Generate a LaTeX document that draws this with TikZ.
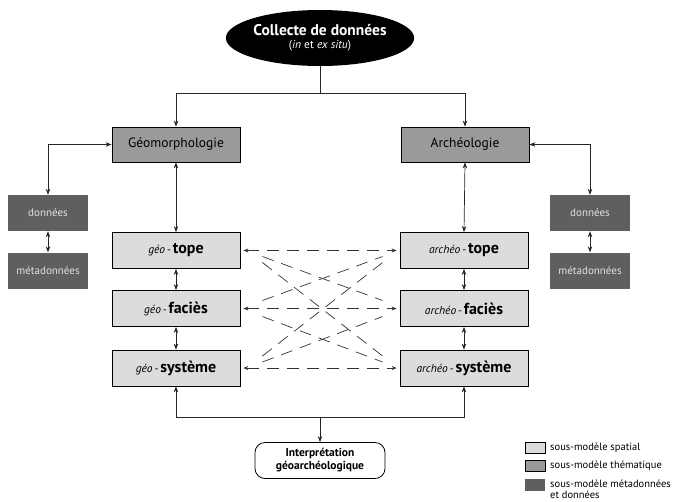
\documentclass[tikz,border=0pt]{standalone}
\usepackage{fontspec}
\setmainfont{PT Sans}
\usetikzlibrary{shapes.geometric,arrows.meta}
\definecolor{lightg}{RGB}{220,220,220}
\definecolor{medg}{RGB}{154,154,154}
\definecolor{darkg}{RGB}{95,95,95}
\definecolor{metatext}{RGB}{225,225,225}
\begin{document}
\begin{tikzpicture}[x=1pt,y=-1pt,
  spat/.style={draw=black, fill=lightg, minimum width=128pt, minimum height=36pt, inner sep=0pt, line width=0.8pt},
  them/.style={draw=black, fill=medg, minimum width=128pt, minimum height=35pt, inner sep=0pt, line width=0.8pt, font=\fontsize{13.5}{15}\selectfont},
  meta/.style={fill=darkg, text=metatext, minimum width=80pt, minimum height=36pt, inner sep=0pt, font=\fontsize{11}{13}\selectfont},
  arr/.style={-{Stealth[length=6pt,width=4.5pt]}, line width=0.7pt, draw=black!85},
  barr/.style={{Stealth[length=6pt,width=4.5pt]}-{Stealth[length=6pt,width=4.5pt]}, line width=0.7pt, draw=black!85},
  darr/.style={{Stealth[length=5pt,width=4pt]}-{Stealth[length=5pt,width=4pt]}, line width=0.7pt, draw=black!80, dash pattern=on 12pt off 8pt},
  dln/.style={line width=0.7pt, draw=black!80, dash pattern=on 12pt off 8pt},
  lg/.style={anchor=west, inner sep=0pt, font=\fontsize{10.5}{11}\selectfont}
]
\useasboundingbox (0,0) rectangle (676,501);

% nodes
\node[ellipse, fill=black, text=white, minimum width=172pt, minimum height=56pt, inner sep=0pt, align=center] (col) at (320,38)
  {\fontsize{15.5}{17}\selectfont\bfseries Collecte de données\\[1pt]\fontsize{11.5}{13}\selectfont(\textit{in} et \textit{ex situ})};

\node[them] (geo) at (176,144.5) {Géomorphologie};
\node[them] (arc) at (465,144.5) {Archéologie};

\node[meta] (dl) at (48,213) {données};
\node[meta] (ml) at (48,270.5) {métadonnées};
\node[meta] (dr) at (590,213) {données};
\node[meta] (mr) at (590,270.5) {métadonnées};

\node[spat] (gt) at (176,250.5) {{\fontsize{11.5}{13}\selectfont\itshape géo}{\fontsize{11}{13}\selectfont\,-\,}{\fontsize{16}{17}\selectfont\bfseries tope}};
\node[spat] (gf) at (176,308.5) {{\fontsize{11.5}{13}\selectfont\itshape géo}{\fontsize{11}{13}\selectfont\,-\,}{\fontsize{16}{17}\selectfont\bfseries faciès}};
\node[spat] (gs) at (176,368) {{\fontsize{11.5}{13}\selectfont\itshape géo}{\fontsize{11}{13}\selectfont\,-\,}{\fontsize{16}{17}\selectfont\bfseries système}};
\node[spat] (at) at (464,250.5) {{\fontsize{11.5}{13}\selectfont\itshape archéo}{\fontsize{11}{13}\selectfont\,-\,}{\fontsize{16}{17}\selectfont\bfseries tope}};
\node[spat] (af) at (464,308.5) {{\fontsize{11.5}{13}\selectfont\itshape archéo}{\fontsize{11}{13}\selectfont\,-\,}{\fontsize{16}{17}\selectfont\bfseries faciès}};
\node[spat] (as) at (464,368) {{\fontsize{11.5}{13}\selectfont\itshape archéo}{\fontsize{11}{13}\selectfont\,-\,}{\fontsize{16}{17}\selectfont\bfseries système}};

\node[draw=black, fill=white, rounded corners=10pt, minimum width=130pt, minimum height=36pt, inner sep=0pt, line width=0.8pt, align=center, font=\fontsize{11.5}{13}\selectfont\bfseries] (interp) at (320,460.5) {Interprétation\\géoarchéologique};

% top connectors
\coordinate (tj) at (320,93);
\draw[arr] (col.south) -- (tj) -| (geo.north);
\draw[arr] (tj) -| (arc.north);

% side connectors
\draw[barr] (geo.west) -| (dl.north);
\draw[barr] (arc.east) -| (dr.north);
\draw[barr] (dl.south) -- (ml.north);
\draw[barr] (dr.south) -- (mr.north);

% vertical chains
\draw[barr] (geo.south) -- (gt.north);
\draw[barr] (gt.south) -- (gf.north);
\draw[barr] (gf.south) -- (gs.north);
\draw[barr] (arc.south) -- (at.north);
\draw[barr] (at.south) -- (af.north);
\draw[barr] (af.south) -- (as.north);

% dashed horizontals
\draw[darr] ([xshift=3pt]gt.east) -- ([xshift=-3pt]at.west);
\draw[darr] ([xshift=3pt]gf.east) -- ([xshift=-3pt]af.west);
\draw[darr] ([xshift=3pt]gs.east) -- ([xshift=-3pt]as.west);

% dashed diagonals
\draw[dln] ([xshift=22pt,yshift=-6pt]gt.east) -- ([xshift=-17pt,yshift=8pt]af.west);
\draw[dln] ([xshift=22pt,yshift=-12pt]gt.east) -- ([xshift=-17pt,yshift=12pt]as.west);
\draw[dln] ([xshift=22pt,yshift=8pt]gf.east) -- ([xshift=-17pt,yshift=-6pt]at.west);
\draw[dln] ([xshift=22pt,yshift=-8pt]gf.east) -- ([xshift=-17pt,yshift=6pt]as.west);
\draw[dln] ([xshift=22pt,yshift=12pt]gs.east) -- ([xshift=-17pt,yshift=-12pt]at.west);
\draw[dln] ([xshift=22pt,yshift=6pt]gs.east) -- ([xshift=-17pt,yshift=-8pt]af.west);

% bottom connectors
\coordinate (bj) at (320,417);
\draw[arr] (bj) -| (gs.south);
\draw[arr] (bj) -| (as.south);
\draw[arr] (bj) -- (interp.north);

% legend
\node[draw=black, fill=lightg, minimum width=20pt, minimum height=11pt, inner sep=0pt, line width=0.6pt] (l1) at (535,447.5) {};
\node[draw=black, fill=medg, minimum width=20pt, minimum height=11pt, inner sep=0pt, line width=0.6pt] (l2) at (535,466) {};
\node[fill=darkg, minimum width=20pt, minimum height=12pt, inner sep=0pt] (l3) at (535,485) {};
\node[lg] (t1) at (550,447.5) {sous-modèle spatial};
\node[lg] (t2) at (550,466) {sous-modèle thématique};
\node[lg, anchor=west, align=left] (t3) at (550,489.5) {sous-modèle métadonnées\\et données};
\end{tikzpicture}
\end{document}
